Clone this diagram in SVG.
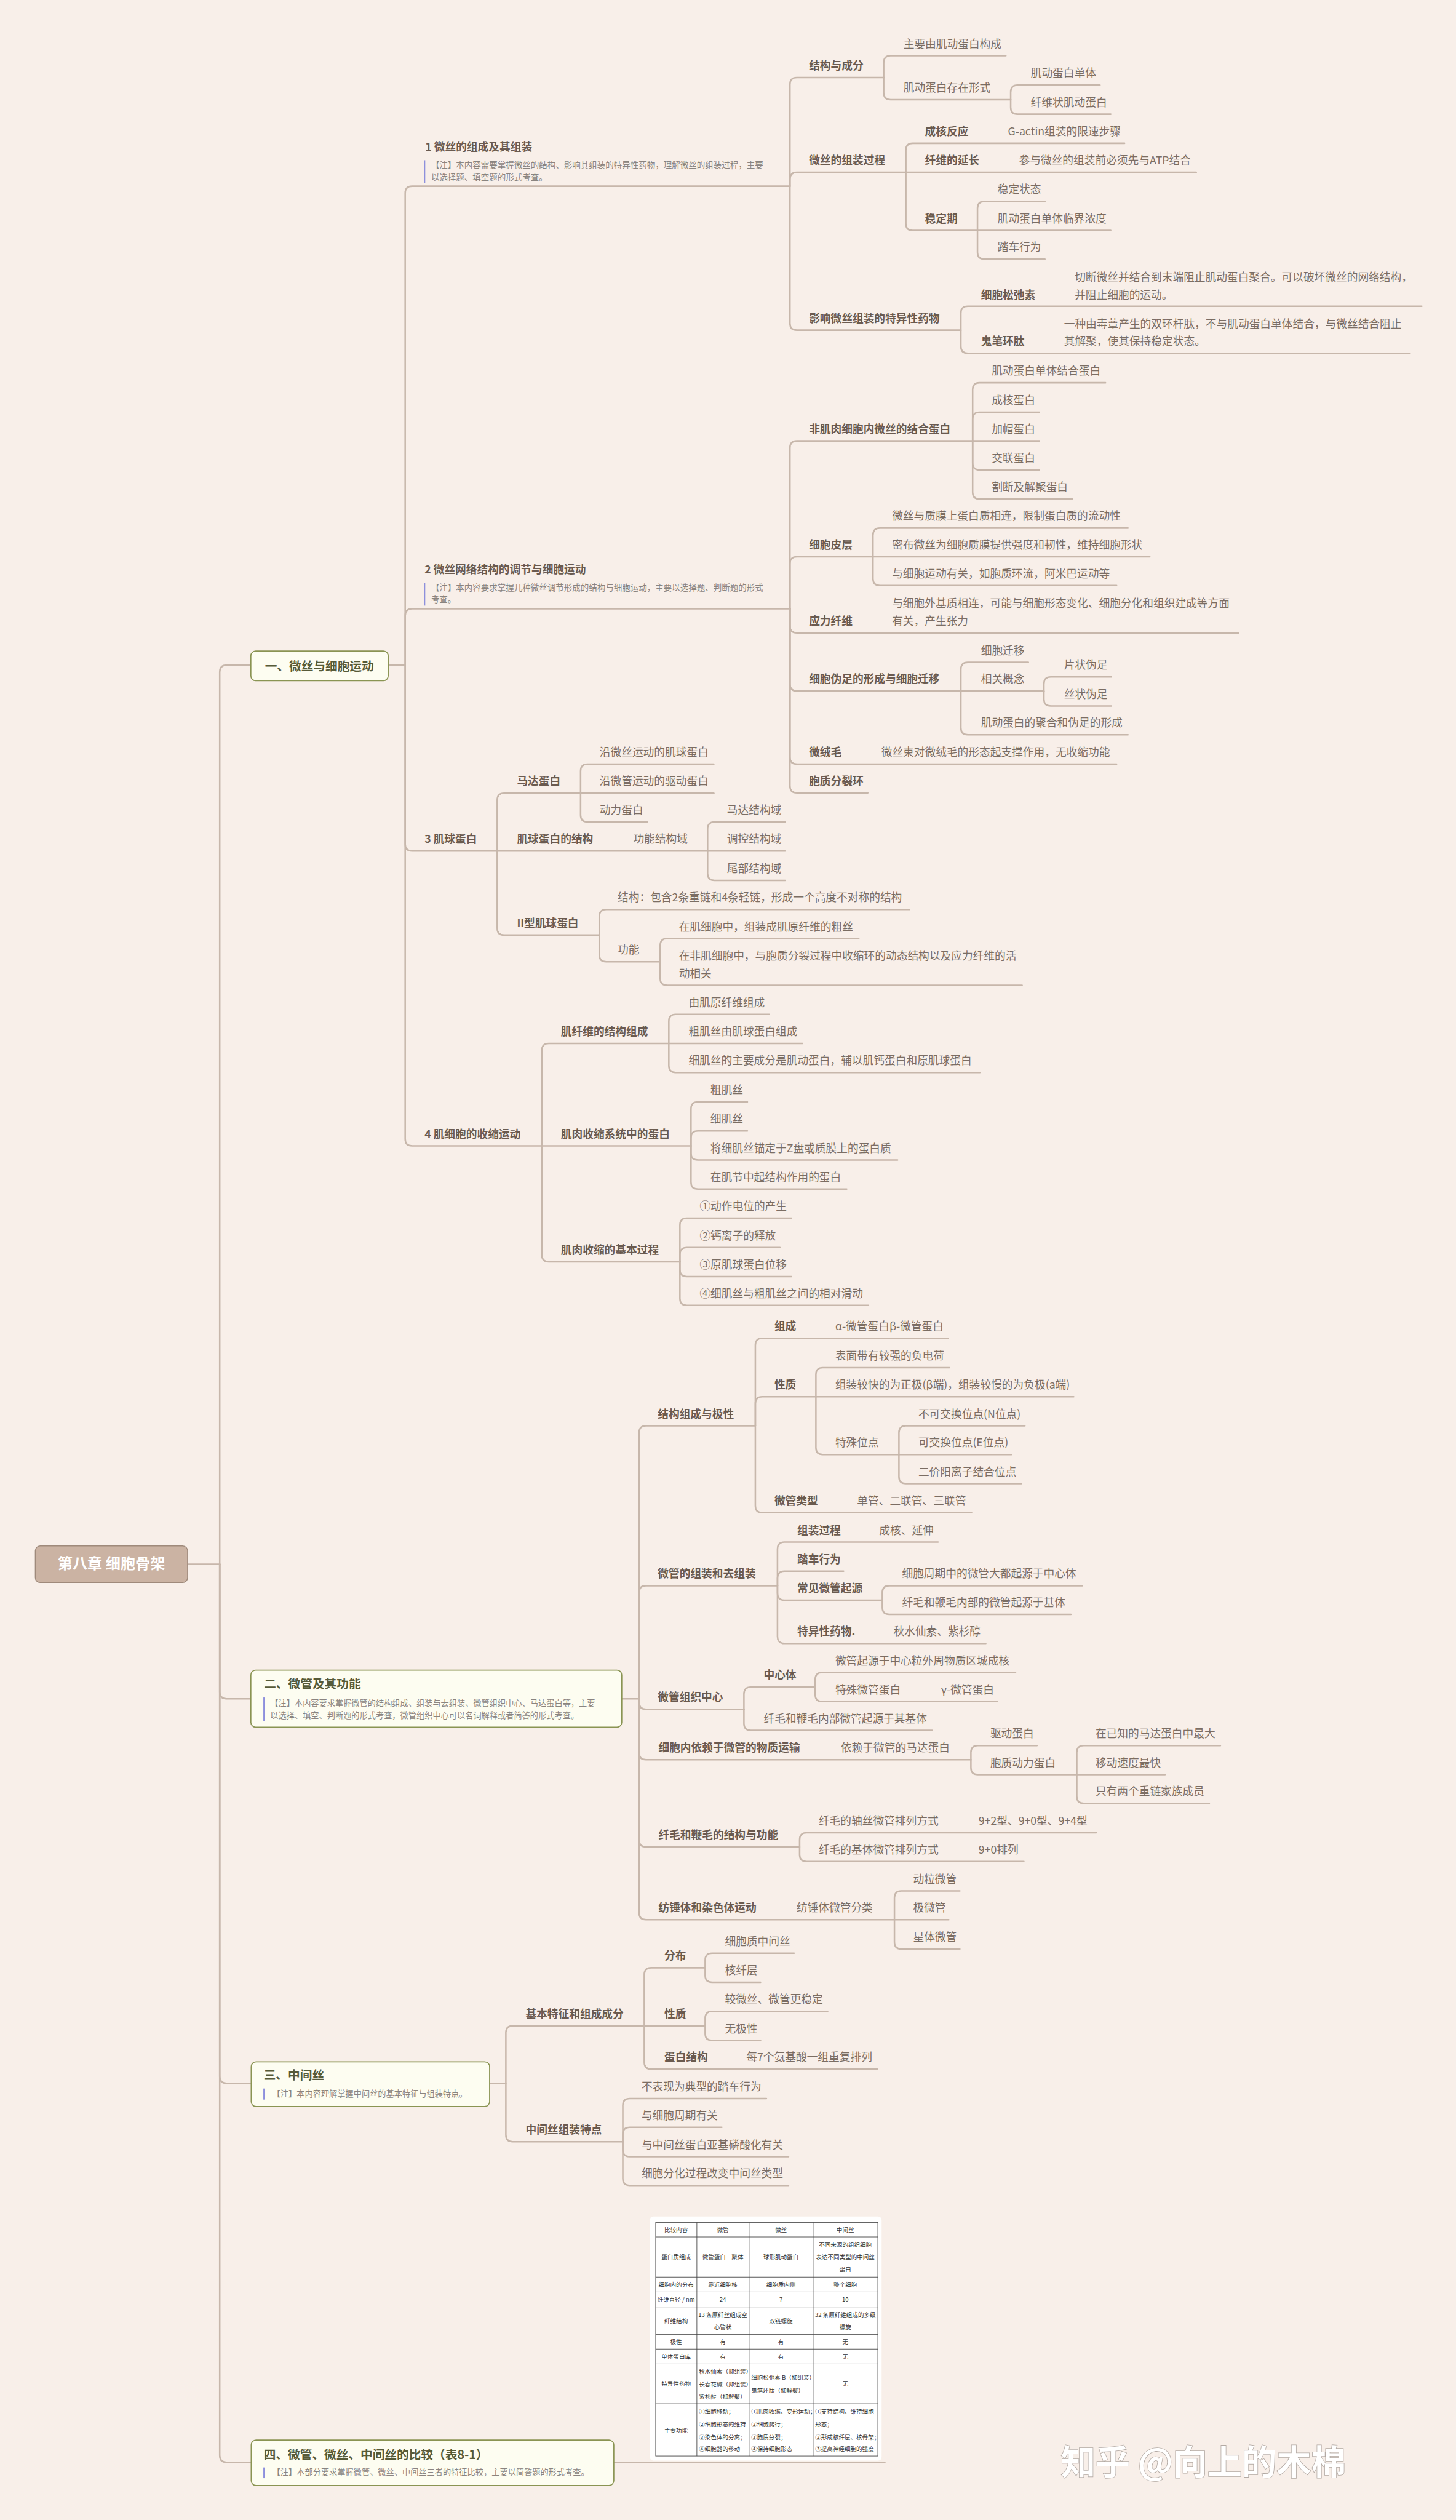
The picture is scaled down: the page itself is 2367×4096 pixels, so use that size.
<svg xmlns="http://www.w3.org/2000/svg" width="2367" height="4096" viewBox="0 0 2367 4096">
<style>
.ln{fill:none;stroke:#c7b7ab;stroke-width:4.5;stroke-linecap:round;stroke-linejoin:round}
text{font-family:"Noto Sans CJK SC","Noto Sans",sans-serif}
.b{font-size:31.5px;font-weight:bold;fill:#6a5a4f}
.t{font-size:31.5px;fill:#7b6d63}
.n{font-size:24px;fill:#8a8480}
.nb{font-size:23.5px;fill:#8a8480}
.bar{stroke:#8e90dc;stroke-width:4}
.sec{fill:#fdfdf1;stroke:#8a9453;stroke-width:3}
.st{font-size:35px;font-weight:bold;fill:#565a38}
.tb{font-size:17px;fill:#333}
.tg{stroke:#444;stroke-width:1.6;fill:none}
</style>
<rect width="2367" height="4096" fill="#f8efe9"/>
<g transform="scale(0.5625)">
<g id="connectors" class="ln">
<path d="M542 4520H635"/>
<path d="M635 4520V1942Q635 1922 655 1922H725"/>
<path d="M635 4520V4889Q635 4909 655 4909H725"/>
<path d="M635 4520V6000Q635 6020 655 6020H726"/>
<path d="M635 4520V7095Q635 7115 655 7115H726"/>
<path d="M1122 1922H1171V558Q1171 538 1191 538H2283"/>
<path d="M1171 1922V1779Q1171 1759 1191 1759H2283"/>
<path d="M1171 1922V2439Q1171 2459 1191 2459H1437"/>
<path d="M1171 1922V3291Q1171 3311 1191 3311H1566"/>
<path d="M2283 538V244Q2283 224 2303 224H2554"/>
<path d="M2283 538V518Q2283 498 2303 498H2618"/>
<path d="M2283 538V934Q2283 954 2303 954H2777"/>
<path d="M2554 224V181Q2554 161 2574 161H2907"/>
<path d="M2554 224V268Q2554 288 2574 288H2921"/>
<path d="M2921 288V266Q2921 246 2941 246H3179"/>
<path d="M2921 288V310Q2921 330 2941 330H3210"/>
<path d="M2618 498V434Q2618 414 2638 414H3250"/>
<path d="M2618 498H3457"/>
<path d="M2618 498V646Q2618 666 2638 666H2825"/>
<path d="M2825 666V602Q2825 582 2845 582H3020"/>
<path d="M2825 666H3210"/>
<path d="M2825 666V729Q2825 749 2845 749H3020"/>
<path d="M2777 954V905Q2777 885 2797 885H4109"/>
<path d="M2777 954V1001Q2777 1021 2797 1021H4075"/>
<path d="M2283 1759V1294Q2283 1274 2303 1274H2811"/>
<path d="M2283 1759V1629Q2283 1609 2303 1609H2523"/>
<path d="M2283 1759V1809Q2283 1829 2303 1829H3580"/>
<path d="M2283 1759V1977Q2283 1997 2303 1997H2777"/>
<path d="M2283 1759V2188Q2283 2208 2303 2208H3227"/>
<path d="M2283 1759V2271Q2283 2291 2303 2291H2508"/>
<path d="M2811 1274V1126Q2811 1106 2831 1106H3195"/>
<path d="M2811 1274V1211Q2811 1191 2831 1191H3004"/>
<path d="M2811 1274H3004"/>
<path d="M2811 1274V1338Q2811 1358 2831 1358H3004"/>
<path d="M2811 1274V1422Q2811 1442 2831 1442H3100"/>
<path d="M2523 1609V1546Q2523 1526 2543 1526H3260"/>
<path d="M2523 1609H3323"/>
<path d="M2523 1609V1672Q2523 1692 2543 1692H3227"/>
<path d="M2777 1997V1934Q2777 1914 2797 1914H2972"/>
<path d="M2777 1997H3017"/>
<path d="M2777 1997V2103Q2777 2123 2797 2123H3260"/>
<path d="M3017 1997V1976Q3017 1956 3037 1956H3212"/>
<path d="M3017 1997V2020Q3017 2040 3037 2040H3212"/>
<path d="M1437 2459V2312Q1437 2292 1457 2292H1678"/>
<path d="M1437 2459H2045"/>
<path d="M1437 2459V2682Q1437 2702 1457 2702H1732"/>
<path d="M1678 2292V2228Q1678 2208 1698 2208H2063"/>
<path d="M1678 2292H2063"/>
<path d="M1678 2292V2355Q1678 2375 1698 2375H1871"/>
<path d="M2045 2459V2395Q2045 2375 2065 2375H2269"/>
<path d="M2045 2459H2269"/>
<path d="M2045 2459V2524Q2045 2544 2065 2544H2269"/>
<path d="M1732 2702V2648Q1732 2628 1752 2628H2629"/>
<path d="M1732 2702V2759Q1732 2779 1752 2779H1908"/>
<path d="M1908 2779V2732Q1908 2712 1928 2712H2482"/>
<path d="M1908 2779V2827Q1908 2847 1928 2847H2954"/>
<path d="M1566 3311V3035Q1566 3015 1586 3015H1933"/>
<path d="M1566 3311H1997"/>
<path d="M1566 3311V3626Q1566 3646 1586 3646H1965"/>
<path d="M1933 3015V2951Q1933 2931 1953 2931H2223"/>
<path d="M1933 3015H2319"/>
<path d="M1933 3015V3079Q1933 3099 1953 3099H2832"/>
<path d="M1997 3311V3204Q1997 3184 2017 3184H2160"/>
<path d="M1997 3311V3288Q1997 3268 2017 3268H2160"/>
<path d="M1997 3311V3332Q1997 3352 2017 3352H2594"/>
<path d="M1997 3311V3416Q1997 3436 2017 3436H2447"/>
<path d="M1965 3646V3540Q1965 3520 1985 3520H2287"/>
<path d="M1965 3646V3625Q1965 3605 1985 3605H2254"/>
<path d="M1965 3646V3669Q1965 3689 1985 3689H2287"/>
<path d="M1965 3646V3752Q1965 3772 1985 3772H2510"/>
<path d="M1797 4909H1847V4140Q1847 4120 1867 4120H2183"/>
<path d="M1847 4909V4602Q1847 4582 1867 4582H2247"/>
<path d="M1847 4909V4919Q1847 4939 1867 4939H2150"/>
<path d="M1847 4909V5065Q1847 5085 1867 5085H2806"/>
<path d="M1847 4909V5317Q1847 5337 1867 5337H2311"/>
<path d="M1847 4909V5527Q1847 5547 1867 5547H2585"/>
<path d="M2183 4120V3887Q2183 3867 2203 3867H2741"/>
<path d="M2183 4120V4056Q2183 4036 2203 4036H2358"/>
<path d="M2183 4120V4351Q2183 4371 2203 4371H2808"/>
<path d="M2358 4036V3972Q2358 3952 2378 3952H2744"/>
<path d="M2358 4036H3103"/>
<path d="M2358 4036V4183Q2358 4203 2378 4203H2598"/>
<path d="M2598 4203V4140Q2598 4120 2618 4120H2962"/>
<path d="M2598 4203H2923"/>
<path d="M2598 4203V4267Q2598 4287 2618 4287H2952"/>
<path d="M2247 4582V4476Q2247 4456 2267 4456H2711"/>
<path d="M2247 4582V4560Q2247 4540 2267 4540H2438"/>
<path d="M2247 4582V4604Q2247 4624 2267 4624H2550"/>
<path d="M2247 4582V4729Q2247 4749 2267 4749H2849"/>
<path d="M2550 4624V4602Q2550 4582 2570 4582H3128"/>
<path d="M2550 4624V4645Q2550 4665 2570 4665H3095"/>
<path d="M2150 4939V4895Q2150 4875 2170 4875H2356"/>
<path d="M2150 4939V4980Q2150 5000 2170 5000H2694"/>
<path d="M2356 4875V4853Q2356 4833 2376 4833H2935"/>
<path d="M2356 4875V4897Q2356 4917 2376 4917H2883"/>
<path d="M2806 5085V5064Q2806 5044 2826 5044H2997"/>
<path d="M2806 5085V5108Q2806 5128 2826 5128H3112"/>
<path d="M3112 5128V5064Q3112 5044 3132 5044H3527"/>
<path d="M3112 5128H3367"/>
<path d="M3112 5128V5191Q3112 5211 3132 5211H3495"/>
<path d="M2311 5337V5316Q2311 5296 2331 5296H3168"/>
<path d="M2311 5337V5359Q2311 5379 2331 5379H2959"/>
<path d="M2585 5547V5484Q2585 5464 2605 5464H2774"/>
<path d="M2585 5547H2742"/>
<path d="M2585 5547V5612Q2585 5632 2605 5632H2774"/>
<path d="M1415 6020H1462V5874Q1462 5854 1482 5854H1862"/>
<path d="M1462 6020V6169Q1462 6189 1482 6189H1800"/>
<path d="M1862 5854V5706Q1862 5686 1882 5686H2038"/>
<path d="M1862 5854H2038"/>
<path d="M1862 5854V5959Q1862 5979 1882 5979H2536"/>
<path d="M2038 5686V5664Q2038 5644 2058 5644H2295"/>
<path d="M2038 5686V5708Q2038 5728 2058 5728H2198"/>
<path d="M2038 5854V5832Q2038 5812 2058 5812H2392"/>
<path d="M2038 5854V5876Q2038 5896 2058 5896H2198"/>
<path d="M1800 6189V6084Q1800 6064 1820 6064H2215"/>
<path d="M1800 6189V6167Q1800 6147 1820 6147H2086"/>
<path d="M1800 6189V6212Q1800 6232 1820 6232H2279"/>
<path d="M1800 6189V6295Q1800 6315 1820 6315H2279"/>
<path d="M1774 7115H2557"/>
</g>

<g id="root"><rect x="102" y="4467" width="440" height="106" rx="14" fill="#cbb3a3" stroke="#9f8a7b" stroke-width="2.5"/><text x="322" y="4534" text-anchor="middle" font-size="43" font-weight="bold" fill="#ffffff">第八章 细胞骨架</text></g>

<g id="sec1"><rect class="sec" x="725" y="1881" width="397" height="86" rx="14"/><text class="st" x="923" y="1937" text-anchor="middle">一、微丝与细胞运动</text></g>
<g id="sec2"><rect class="sec" x="725" y="4826" width="1072" height="165" rx="14"/><text class="st" x="763" y="4879">二、微管及其功能</text><line class="bar" x1="763" y1="4905" x2="763" y2="4973"/><text class="nb" x="781" y="4930">【注】本内容要求掌握微管的结构组成、组装与去组装、微管组织中心、马达蛋白等，主要</text><text class="nb" x="781" y="4965">以选择、填空、判断题的形式考查，微管组织中心可以名词解释或者简答的形式考查。</text></g>
<g id="sec3"><rect class="sec" x="726" y="5958" width="689" height="129" rx="14"/><text class="st" x="762" y="6009">三、中间丝</text><line class="bar" x1="763" y1="6035" x2="763" y2="6067"/><text class="nb" x="787" y="6059">【注】本内容理解掌握中间丝的基本特征与组装特点。</text></g>
<g id="sec4"><rect class="sec" x="726" y="7051" width="1048" height="131" rx="14"/><text class="st" x="762" y="7105">四、微管、微丝、中间丝的比较（表8-1）</text><line class="bar" x1="763" y1="7130" x2="763" y2="7161"/><text class="nb" x="787" y="7152">【注】本部分要求掌握微管、微丝、中间丝三者的特征比较，主要以简答题的形式考查。</text></g>

<g id="s1"><text class="b" x="1229" y="435">1 微丝的组成及其组装</text><line class="bar" x1="1227" y1="463" x2="1227" y2="528"/><text class="n" x="1246" y="485">【注】本内容需要掌握微丝的结构、影响其组装的特异性药物，理解微丝的组装过程，主要</text><text class="n" x="1246" y="520">以选择题、填空题的形式考查。</text></g>
<g id="s2"><text class="b" x="1227" y="1657">2 微丝网络结构的调节与细胞运动</text><line class="bar" x1="1227" y1="1684" x2="1227" y2="1750"/><text class="n" x="1246" y="1707">【注】本内容要求掌握几种微丝调节形成的结构与细胞运动，主要以选择题、判断题的形式</text><text class="n" x="1246" y="1741">考查。</text></g>
<g id="s3"><text class="b" x="1227" y="2436">3 肌球蛋白</text></g>
<g id="s4"><text class="b" x="1227" y="3288">4 肌细胞的收缩运动</text></g>

<g id="n1a"><text class="b" x="2338" y="201">结构与成分</text></g>
<g id="n1a1"><text class="t" x="2611" y="138">主要由肌动蛋白构成</text></g>
<g id="n1a2"><text class="t" x="2611" y="265">肌动蛋白存在形式</text></g>
<g id="n1a2a"><text class="t" x="2979" y="223">肌动蛋白单体</text></g>
<g id="n1a2b"><text class="t" x="2979" y="307">纤维状肌动蛋白</text></g>
<g id="n1b"><text class="b" x="2338" y="475">微丝的组装过程</text></g>
<g id="n1b1"><text class="b" x="2673" y="391">成核反应</text><text class="t" x="2913" y="391">G-actin组装的限速步骤</text></g>
<g id="n1b2"><text class="b" x="2673" y="475">纤维的延长</text><text class="t" x="2945" y="475">参与微丝的组装前必须先与ATP结合</text></g>
<g id="n1b3"><text class="b" x="2673" y="643">稳定期</text></g>
<g id="n1b3a"><text class="t" x="2883" y="559">稳定状态</text></g>
<g id="n1b3b"><text class="t" x="2883" y="643">肌动蛋白单体临界浓度</text></g>
<g id="n1b3c"><text class="t" x="2883" y="726">踏车行为</text></g>
<g id="n1c"><text class="b" x="2338" y="931">影响微丝组装的特异性药物</text></g>
<g id="n1c1"><text class="b" x="2835" y="864">细胞松弛素</text><text class="t" x="3106" y="813">切断微丝并结合到末端阻止肌动蛋白聚合。可以破坏微丝的网络结构，</text><text class="t" x="3106" y="864">并阻止细胞的运动。</text></g>
<g id="n1c2"><text class="b" x="2835" y="998">鬼笔环肽</text><text class="t" x="3075" y="947">一种由毒蕈产生的双环杆肽，不与肌动蛋白单体结合，与微丝结合阻止</text><text class="t" x="3075" y="998">其解聚，使其保持稳定状态。</text></g>

<g id="n2a"><text class="b" x="2338" y="1251">非肌肉细胞内微丝的结合蛋白</text></g>
<g id="n2a1"><text class="t" x="2866" y="1083">肌动蛋白单体结合蛋白</text></g>
<g id="n2a2"><text class="t" x="2866" y="1168">成核蛋白</text></g>
<g id="n2a3"><text class="t" x="2866" y="1251">加帽蛋白</text></g>
<g id="n2a4"><text class="t" x="2866" y="1335">交联蛋白</text></g>
<g id="n2a5"><text class="t" x="2866" y="1419">割断及解聚蛋白</text></g>
<g id="n2b"><text class="b" x="2338" y="1586">细胞皮层</text></g>
<g id="n2b1"><text class="t" x="2578" y="1503">微丝与质膜上蛋白质相连，限制蛋白质的流动性</text></g>
<g id="n2b2"><text class="t" x="2578" y="1586">密布微丝为细胞质膜提供强度和韧性，维持细胞形状</text></g>
<g id="n2b3"><text class="t" x="2578" y="1669">与细胞运动有关，如胞质环流，阿米巴运动等</text></g>
<g id="n2c"><text class="b" x="2338" y="1806">应力纤维</text><text class="t" x="2578" y="1755">与细胞外基质相连，可能与细胞形态变化、细胞分化和组织建成等方面</text><text class="t" x="2578" y="1806">有关，产生张力</text></g>
<g id="n2d"><text class="b" x="2338" y="1974">细胞伪足的形成与细胞迁移</text></g>
<g id="n2d1"><text class="t" x="2835" y="1891">细胞迁移</text></g>
<g id="n2d2"><text class="t" x="2835" y="1974">相关概念</text></g>
<g id="n2d2a"><text class="t" x="3075" y="1933">片状伪足</text></g>
<g id="n2d2b"><text class="t" x="3075" y="2017">丝状伪足</text></g>
<g id="n2d3"><text class="t" x="2835" y="2100">肌动蛋白的聚合和伪足的形成</text></g>
<g id="n2e"><text class="b" x="2338" y="2185">微绒毛</text><text class="t" x="2547" y="2185">微丝束对微绒毛的形态起支撑作用，无收缩功能</text></g>
<g id="n2f"><text class="b" x="2338" y="2268">胞质分裂环</text></g>

<g id="n3a"><text class="b" x="1494" y="2269">马达蛋白</text></g>
<g id="n3a1"><text class="t" x="1733" y="2185">沿微丝运动的肌球蛋白</text></g>
<g id="n3a2"><text class="t" x="1733" y="2269">沿微管运动的驱动蛋白</text></g>
<g id="n3a3"><text class="t" x="1733" y="2352">动力蛋白</text></g>
<g id="n3b"><text class="b" x="1494" y="2436">肌球蛋白的结构</text><text class="t" x="1830" y="2436">功能结构域</text></g>
<g id="n3b1"><text class="t" x="2101" y="2352">马达结构域</text></g>
<g id="n3b2"><text class="t" x="2101" y="2436">调控结构域</text></g>
<g id="n3b3"><text class="t" x="2101" y="2521">尾部结构域</text></g>
<g id="n3c"><text class="b" x="1494" y="2679">II型肌球蛋白</text></g>
<g id="n3c1"><text class="t" x="1785" y="2605">结构：包含2条重链和4条轻链，形成一个高度不对称的结构</text></g>
<g id="n3c2"><text class="t" x="1785" y="2756">功能</text></g>
<g id="n3c2a"><text class="t" x="1962" y="2689">在肌细胞中，组装成肌原纤维的粗丝</text></g>
<g id="n3c2b"><text class="t" x="1962" y="2773">在非肌细胞中，与胞质分裂过程中收缩环的动态结构以及应力纤维的活</text><text class="t" x="1962" y="2824">动相关</text></g>

<g id="n4a"><text class="b" x="1621" y="2992">肌纤维的结构组成</text></g>
<g id="n4a1"><text class="t" x="1990" y="2908">由肌原纤维组成</text></g>
<g id="n4a2"><text class="t" x="1990" y="2992">粗肌丝由肌球蛋白组成</text></g>
<g id="n4a3"><text class="t" x="1990" y="3076">细肌丝的主要成分是肌动蛋白，辅以肌钙蛋白和原肌球蛋白</text></g>
<g id="n4b"><text class="b" x="1621" y="3288">肌肉收缩系统中的蛋白</text></g>
<g id="n4b1"><text class="t" x="2053" y="3161">粗肌丝</text></g>
<g id="n4b2"><text class="t" x="2053" y="3245">细肌丝</text></g>
<g id="n4b3"><text class="t" x="2053" y="3329">将细肌丝锚定于Z盘或质膜上的蛋白质</text></g>
<g id="n4b4"><text class="t" x="2053" y="3413">在肌节中起结构作用的蛋白</text></g>
<g id="n4c"><text class="b" x="1621" y="3623">肌肉收缩的基本过程</text></g>
<g id="n4c1"><text class="t" x="2022" y="3497">①动作电位的产生</text></g>
<g id="n4c2"><text class="t" x="2022" y="3582">②钙离子的释放</text></g>
<g id="n4c3"><text class="t" x="2022" y="3666">③原肌球蛋白位移</text></g>
<g id="n4c4"><text class="t" x="2022" y="3749">④细肌丝与粗肌丝之间的相对滑动</text></g>

<g id="m1"><text class="b" x="1901" y="4097">结构组成与极性</text></g>
<g id="m1a"><text class="b" x="2238" y="3844">组成</text><text class="t" x="2414" y="3844">α-微管蛋白β-微管蛋白</text></g>
<g id="m1b"><text class="b" x="2238" y="4013">性质</text></g>
<g id="m1b1"><text class="t" x="2414" y="3929">表面带有较强的负电荷</text></g>
<g id="m1b2"><text class="t" x="2414" y="4013">组装较快的为正极(β端)，组装较慢的为负极(a端)</text></g>
<g id="m1b3"><text class="t" x="2414" y="4180">特殊位点</text></g>
<g id="m1b3a"><text class="t" x="2654" y="4097">不可交换位点(N位点)</text></g>
<g id="m1b3b"><text class="t" x="2654" y="4180">可交换位点(E位点)</text></g>
<g id="m1b3c"><text class="t" x="2654" y="4264">二价阳离子结合位点</text></g>
<g id="m1c"><text class="b" x="2238" y="4348">微管类型</text><text class="t" x="2477" y="4348">单管、二联管、三联管</text></g>
<g id="m2"><text class="b" x="1901" y="4559">微管的组装和去组装</text></g>
<g id="m2a"><text class="b" x="2304" y="4433">组装过程</text><text class="t" x="2541" y="4433">成核、延伸</text></g>
<g id="m2b"><text class="b" x="2304" y="4517">踏车行为</text></g>
<g id="m2c"><text class="b" x="2304" y="4601">常见微管起源</text></g>
<g id="m2c1"><text class="t" x="2607" y="4559">细胞周期中的微管大都起源于中心体</text></g>
<g id="m2c2"><text class="t" x="2607" y="4642">纤毛和鞭毛内部的微管起源于基体</text></g>
<g id="m2d"><text class="b" x="2304" y="4726">特异性药物.</text><text class="t" x="2582" y="4726">秋水仙素、紫杉醇</text></g>
<g id="m3"><text class="b" x="1901" y="4916">微管组织中心</text></g>
<g id="m3a"><text class="b" x="2207" y="4852">中心体</text></g>
<g id="m3a1"><text class="t" x="2414" y="4810">微管起源于中心粒外周物质区城成核</text></g>
<g id="m3a2"><text class="t" x="2414" y="4894">特殊微管蛋白</text><text class="t" x="2719" y="4894">γ-微管蛋白</text></g>
<g id="m3b"><text class="t" x="2207" y="4977">纤毛和鞭毛内部微管起源于其基体</text></g>
<g id="m4"><text class="b" x="1903" y="5062">细胞内依赖于微管的物质运输</text><text class="t" x="2430" y="5062">依赖于微管的马达蛋白</text></g>
<g id="m4a"><text class="t" x="2862" y="5021">驱动蛋白</text></g>
<g id="m4b"><text class="t" x="2862" y="5105">胞质动力蛋白</text></g>
<g id="m4b1"><text class="t" x="3166" y="5021">在已知的马达蛋白中最大</text></g>
<g id="m4b2"><text class="t" x="3166" y="5105">移动速度最快</text></g>
<g id="m4b3"><text class="t" x="3166" y="5188">只有两个重链家族成员</text></g>
<g id="m5"><text class="b" x="1903" y="5314">纤毛和鞭毛的结构与功能</text></g>
<g id="m5a"><text class="t" x="2366" y="5273">纤毛的轴丝微管排列方式</text><text class="t" x="2828" y="5273">9+2型、9+0型、9+4型</text></g>
<g id="m5b"><text class="t" x="2366" y="5356">纤毛的基体微管排列方式</text><text class="t" x="2828" y="5356">9+0排列</text></g>
<g id="m6"><text class="b" x="1903" y="5524">纺锤体和染色体运动</text><text class="t" x="2302" y="5524">纺锤体微管分类</text></g>
<g id="m6a"><text class="t" x="2639" y="5441">动粒微管</text></g>
<g id="m6b"><text class="t" x="2639" y="5524">极微管</text></g>
<g id="m6c"><text class="t" x="2639" y="5609">星体微管</text></g>

<g id="k1"><text class="b" x="1519" y="5831">基本特征和组成成分</text></g>
<g id="k1a"><text class="b" x="1920" y="5663">分布</text></g>
<g id="k1a1"><text class="t" x="2095" y="5621">细胞质中间丝</text></g>
<g id="k1a2"><text class="t" x="2095" y="5705">核纤层</text></g>
<g id="k1b"><text class="b" x="1920" y="5831">性质</text></g>
<g id="k1b1"><text class="t" x="2095" y="5789">较微丝、微管更稳定</text></g>
<g id="k1b2"><text class="t" x="2095" y="5873">无极性</text></g>
<g id="k1c"><text class="b" x="1920" y="5956">蛋白结构</text><text class="t" x="2157" y="5956">每7个氨基酸一组重复排列</text></g>
<g id="k2"><text class="b" x="1519" y="6166">中间丝组装特点</text></g>
<g id="k2a"><text class="t" x="1854" y="6041">不表现为典型的踏车行为</text></g>
<g id="k2b"><text class="t" x="1854" y="6124">与细胞周期有关</text></g>
<g id="k2c"><text class="t" x="1854" y="6209">与中间丝蛋白亚基磷酸化有关</text></g>
<g id="k2d"><text class="t" x="1854" y="6292">细胞分化过程改变中间丝类型</text></g>

<g id="table">
<rect x="1878" y="6405" width="670" height="705" rx="10" fill="#ffffff"/>
<rect class="tg" x="1895" y="6422" width="642" height="675"/>
<path class="tg" d="M2014 6422V7097M2165 6422V7097M2350 6422V7097M1895 6464H2537M1895 6580H2537M1895 6623H2537M1895 6666H2537M1895 6746H2537M1895 6788H2537M1895 6831H2537M1895 6946H2537"/>
<g class="tb" text-anchor="middle">
<text x="1954" y="6449">比较内容</text><text x="2089" y="6449">微管</text><text x="2257" y="6449">微丝</text><text x="2443" y="6449">中间丝</text>
<text x="1954" y="6528">蛋白质组成</text><text x="2089" y="6528">微管蛋白二聚体</text><text x="2257" y="6528">球形肌动蛋白</text>
<text x="2443" y="6493">不同来源的组织细胞</text><text x="2443" y="6528">表达不同类型的中间丝</text><text x="2443" y="6564">蛋白</text>
<text x="1954" y="6608">细胞内的分布</text><text x="2089" y="6608">靠近细胞核</text><text x="2257" y="6608">细胞质内侧</text><text x="2443" y="6608">整个细胞</text>
<text x="1954" y="6651">纤维直径 / nm</text><text x="2089" y="6651">24</text><text x="2257" y="6651">7</text><text x="2443" y="6651">10</text>
<text x="1954" y="6713">纤维结构</text><text x="2089" y="6695">13 条原纤丝组成空</text><text x="2089" y="6730">心管状</text><text x="2257" y="6713">双链螺旋</text><text x="2443" y="6695">32 条原纤维组成的多级</text><text x="2443" y="6730">螺旋</text>
<text x="1954" y="6773">极性</text><text x="2089" y="6773">有</text><text x="2257" y="6773">有</text><text x="2443" y="6773">无</text>
<text x="1954" y="6816">单体蛋白库</text><text x="2089" y="6816">有</text><text x="2257" y="6816">有</text><text x="2443" y="6816">无</text>
<text x="1954" y="6894">特异性药物</text><text x="2443" y="6894">无</text>
<text x="1954" y="7029">主要功能</text>
</g>
<g class="tb">
<text x="2020" y="6859">秋水仙素（抑组装）</text><text x="2020" y="6896">长春花碱（抑组装）</text><text x="2020" y="6931">紫杉醇（抑解聚）</text>
<text x="2171" y="6877">细胞松弛素 B（抑组装）</text><text x="2171" y="6913">鬼笔环肽（抑解聚）</text>
<text x="2020" y="6975">①细胞移动；</text><text x="2020" y="7011">②细胞形态的维持</text><text x="2020" y="7048">③染色体的分离；</text><text x="2020" y="7083">④细胞器的移动</text>
<text x="2171" y="6975">①肌肉收缩、变形运动；</text><text x="2171" y="7011">②细胞爬行；</text><text x="2171" y="7048">③胞质分裂；</text><text x="2171" y="7083">④保持细胞形态</text>
<text x="2356" y="6975">①支持结构、维持细胞</text><text x="2356" y="7011">形态；</text><text x="2356" y="7048">②形成核纤层、核骨架；</text><text x="2356" y="7083">③提高神经细胞的强度</text>
</g>
</g>

<text x="3066" y="7150" font-size="100" font-weight="bold" fill="#ffffff" stroke="#b3aaa4" stroke-width="3" paint-order="stroke">知乎 @向上的木棉</text>
</g>
</svg>
